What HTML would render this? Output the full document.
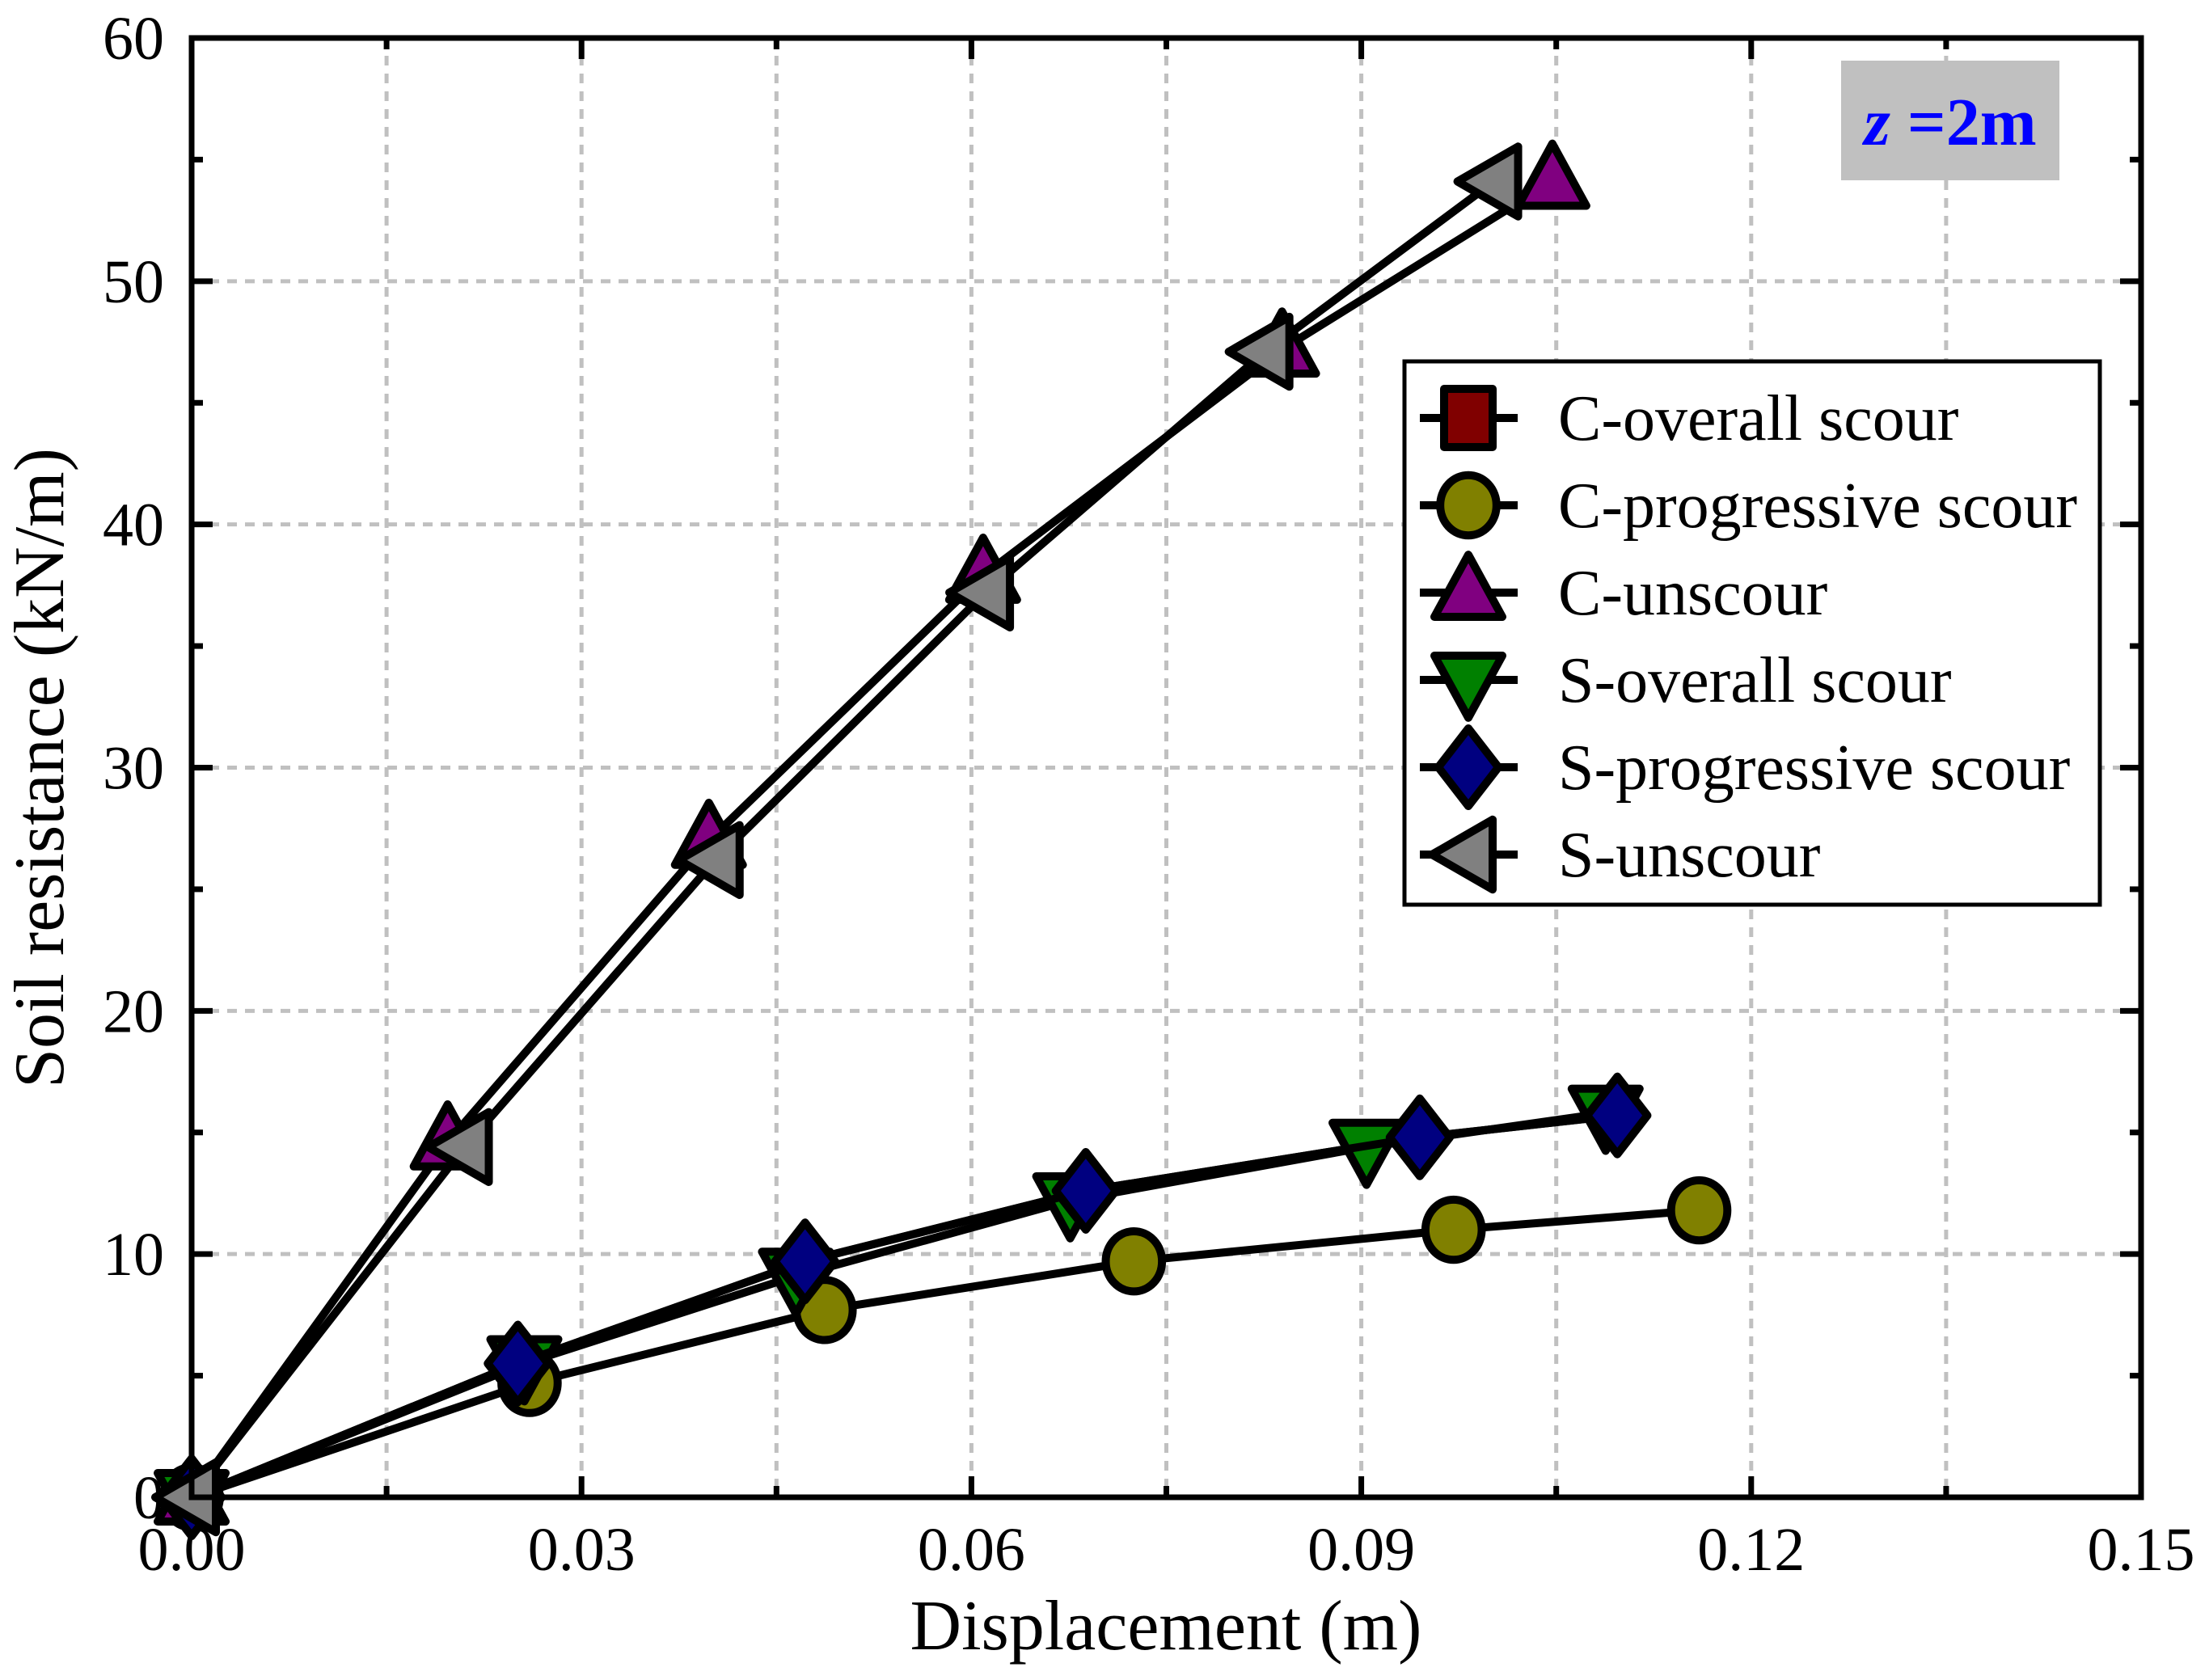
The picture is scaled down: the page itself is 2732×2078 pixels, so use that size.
<!DOCTYPE html>
<html><head><meta charset="utf-8"><style>
html,body{margin:0;padding:0;background:#fff;}
svg{display:block;font-family:"Liberation Serif",serif;}
</style></head><body>
<svg id="chart" width="2732" height="2078" viewBox="0 0 2732 2078" xmlns="http://www.w3.org/2000/svg">
<g id="grid"></g>
<g id="series"></g>
<rect x="237" y="47" width="2411" height="1805" fill="none" stroke="#000" stroke-width="7"/>
<g id="ticks"></g>
<text x="1442" y="2040" font-size="88" text-anchor="middle">Displacement (m)</text>
<text x="0" y="0" font-size="88" text-anchor="middle" transform="translate(78,950) rotate(-90)">Soil resistance (kN/m)</text>
<rect x="2277" y="75" width="270" height="148" fill="#c0c0c0"/>
<text x="2412" y="179" font-size="84" font-weight="bold" fill="#0000ff" text-anchor="middle"><tspan font-style="italic">z</tspan> =2m</text>
<g id="legend">
<rect x="1737" y="447" width="860" height="672" fill="#fff" stroke="#000" stroke-width="5"/>
</g>
</svg>
<script>
const xTicks = [0, 0.03, 0.06, 0.09, 0.12, 0.15];
const xTickLabels = ["0.00", "0.03", "0.06", "0.09", "0.12", "0.15"];
const yTicks = [0, 10, 20, 30, 40, 50, 60];
const yTickLabels = ["0", "10", "20", "30", "40", "50", "60"];
const seriesNames = ["C-overall scour", "C-progressive scour", "C-unscour", "S-overall scour", "S-progressive scour", "S-unscour"];
const cOverallX = [0, 0.0251, 0.0472, 0.0688, 0.0945, 0.1097];
const cOverallY = [0, 5.5, 9.7, 12.6, 14.8, 15.7];
const cProgX = [0, 0.026, 0.0487, 0.0725, 0.0971, 0.116];
const cProgY = [0, 4.7, 7.7, 9.7, 11.0, 11.8];
const cUnX = [0, 0.0197, 0.0398, 0.0609, 0.0839, 0.1047];
const cUnY = [0, 14.6, 27.0, 37.9, 47.2, 54.1];
const sOverX = [0, 0.0256, 0.0465, 0.0676, 0.0904, 0.1088];
const sOverY = [0, 5.5, 9.1, 12.2, 14.4, 15.8];
const sProgX = [0, 0.0251, 0.0472, 0.0688, 0.0945, 0.1097];
const sProgY = [0, 5.5, 9.7, 12.6, 14.8, 15.7];
const sUnX = [0, 0.021, 0.0403, 0.0611, 0.0826, 0.1002];
const sUnY = [0, 14.4, 26.2, 37.2, 47.1, 54.1];

const NS = "http://www.w3.org/2000/svg";
const L = 237, R = 2648, T = 47, B = 1852;
const xs = v => L + (v - 0) / 0.15 * (R - L);
const ys = v => B - (v - 0) / 60 * (B - T);
function mk(tag, attrs, parent) {
  const e = document.createElementNS(NS, tag);
  for (const k in attrs) e.setAttribute(k, attrs[k]);
  parent.appendChild(e);
  return e;
}
const grid = document.getElementById('grid');
const ticks = document.getElementById('ticks');
for (let i = 1; i < 10; i++) {
  const x = xs(i * 0.015);
  const g = mk('line', {x1: x, x2: x, y1: T, y2: B, stroke: '#c0c0c0', 'stroke-width': 5, 'stroke-dasharray': '12 10'}, grid);
  
  
  const len = (i % 2 === 0) ? 26 : 14;
  const t1 = mk('line', {x1: x, x2: x, y1: B, y2: B - len, stroke: '#000', 'stroke-width': 7}, ticks);
  
  
  const t2 = mk('line', {x1: x, x2: x, y1: T, y2: T + len, stroke: '#000', 'stroke-width': 7}, ticks);
  
  
}
for (let i = 1; i < 12; i++) {
  const y = ys(i * 5);
  const major = i % 2 === 0;
  if (major) {
    const g = mk('line', {x1: L, x2: R, y1: y, y2: y, stroke: '#c0c0c0', 'stroke-width': 5, 'stroke-dasharray': '12 10'}, grid);
    
    
  }
  const len = major ? 26 : 14;
  const t1 = mk('line', {x1: L, x2: L + len, y1: y, y2: y, stroke: '#000', 'stroke-width': 7}, ticks);
  
  
  const t2 = mk('line', {x1: R, x2: R - len, y1: y, y2: y, stroke: '#000', 'stroke-width': 7}, ticks);
  
  
}
xTicks.forEach((v, i) => {
  const t = mk('text', {x: xs(v), y: B + 90, 'font-size': 76, 'text-anchor': 'middle'}, ticks);
  t.textContent = xTickLabels[i];
  
  
});
yTicks.forEach((v, i) => {
  const t = mk('text', {x: L - 34, y: ys(v) + 26, 'font-size': 76, 'text-anchor': 'end'}, ticks);
  t.textContent = yTickLabels[i];
  
  
});
const styles = [
  {shape: 'square', fill: '#800000'},
  {shape: 'circle', fill: '#808000'},
  {shape: 'up', fill: '#800080'},
  {shape: 'down', fill: '#008000'},
  {shape: 'diamond', fill: '#000080'},
  {shape: 'left', fill: '#808080'}
];
function marker(shape, cx, cy, fill, parent, s) {
  const a = {fill: fill, stroke: '#000', 'stroke-width': 10, 'stroke-linejoin': 'round'};
  let e;
  if (shape === 'square') { e = mk('rect', Object.assign({x: cx - s * 0.5, y: cy - s * 0.6, width: s, height: s * 1.2}, a), parent); }
  else if (shape === 'circle') { e = mk('ellipse', Object.assign({cx: cx, cy: cy, rx: s * 0.58, ry: s * 0.62}, a), parent); }
  else if (shape === 'up') { e = mk('polygon', Object.assign({points: `${cx},${cy - s * 0.78} ${cx + s * 0.7},${cy + s * 0.5} ${cx - s * 0.7},${cy + s * 0.5}`}, a), parent); }
  else if (shape === 'down') { e = mk('polygon', Object.assign({points: `${cx},${cy + s * 0.78} ${cx + s * 0.7},${cy - s * 0.5} ${cx - s * 0.7},${cy - s * 0.5}`}, a), parent); }
  else if (shape === 'diamond') { e = mk('polygon', Object.assign({points: `${cx},${cy - s * 0.8} ${cx + s * 0.62},${cy} ${cx},${cy + s * 0.8} ${cx - s * 0.62},${cy}`}, a), parent); }
  else { e = mk('polygon', Object.assign({points: `${cx - s * 0.75},${cy} ${cx + s * 0.5},${cy - s * 0.72} ${cx + s * 0.5},${cy + s * 0.72}`}, a), parent); }
  return e;
}
const seriesX = [cOverallX, cProgX, cUnX, sOverX, sProgX, sUnX];
const seriesY = [cOverallY, cProgY, cUnY, sOverY, sProgY, sUnY];
const ser = document.getElementById('series');
seriesX.forEach((X, si) => {
  const g = mk('g', {}, ser);
  
  
  const pts = X.map((v, i) => xs(v) + ',' + ys(seriesY[si][i])).join(' ');
  const pl = mk('polyline', {points: pts, fill: 'none', stroke: '#000', 'stroke-width': 10, 'stroke-linejoin': 'round'}, g);
  
  
  const size = styles[si].shape === 'square' ? 36 : 60;
  X.forEach((v, i) => {
    const m = marker(styles[si].shape, xs(v), ys(seriesY[si][i]), styles[si].fill, g, size);
    
    
  });
});
const leg = document.getElementById('legend');
const rowY = [517, 625, 733, 841, 949, 1057];
seriesNames.forEach((n, i) => {
  const g = mk('g', {}, leg);
  
  
  const ln = mk('line', {x1: 1756, x2: 1877, y1: rowY[i], y2: rowY[i], stroke: '#000', 'stroke-width': 10}, g);
  
  
  const m = marker(styles[i].shape, 1816, rowY[i], styles[i].fill, g, 60);
  
  
  const t = mk('text', {x: 1927, y: rowY[i] + 27, 'font-size': 80}, g);
  t.textContent = n;
  
  
});
</script>
</body></html>
